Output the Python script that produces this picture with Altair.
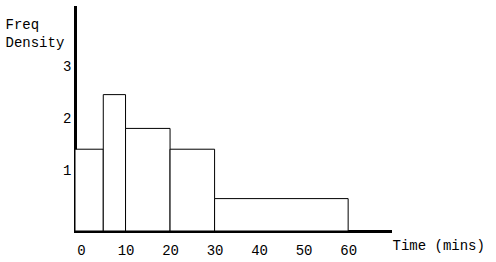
import altair as alt
import pandas as pd

# class boundaries (minutes) and frequency densities
starts = [0, 5, 10, 20, 30]
ends = [5, 10, 20, 30, 60]
density = [1.4, 2.45, 1.8, 1.4, 0.45]

x_ticks = [0, 10, 20, 30, 40, 50, 60]
y_ticks = [1, 2, 3]

XMIN, XMAX = -1.35, 69.4
YMIN, YMAX = -0.173, 4.135

FONT = "Liberation Mono"

df = pd.DataFrame({"start": starts, "end": ends, "density": density})

chart = (
    alt.Chart(df)
    # the first class is drawn starting from the vertical axis, as in the original
    .transform_calculate(x0=f"datum.start <= 0 ? {XMIN} : datum.start", base=f"{YMIN}")
    .mark_rect(fill="white", stroke="black", strokeWidth=1)
    .encode(
        x=alt.X(
            "x0:Q",
            scale=alt.Scale(domain=[XMIN, XMAX], nice=False, zero=False),
            axis=alt.Axis(
                values=x_ticks,
                title="Time (mins)",
                titleX=317,
                titleY=18,
                titleAlign="left",
                titleBaseline="alphabetic",
                titleAnchor="start",
                titleFont=FONT,
                titleFontSize=14,
                titleFontWeight="normal",
                titleColor="black",
                labelFont=FONT,
                labelFontSize=14,
                labelColor="black",
                labelBaseline="alphabetic",
                labelPadding=23,
                labelFlush=False,
                labelOverlap=False,
                ticks=False,
                tickSize=0,
                grid=False,
                domainColor="black",
                domainWidth=3,
                domainCap="square",
            ),
        ),
        x2="end:Q",
        y=alt.Y(
            "density:Q",
            scale=alt.Scale(domain=[YMIN, YMAX], nice=False, zero=False),
            axis=alt.Axis(
                values=y_ticks,
                title=["Freq", "Density"],
                titleAngle=0,
                titleX=-70,
                titleY=21.5,
                titleAlign="left",
                titleBaseline="alphabetic",
                titleAnchor="start",
                titleLineHeight=18,
                titleFont=FONT,
                titleFontSize=14,
                titleFontWeight="normal",
                titleColor="black",
                labelFont=FONT,
                labelFontSize=14,
                labelColor="black",
                labelPadding=4,
                labelFlush=False,
                labelOverlap=False,
                ticks=False,
                tickSize=0,
                grid=False,
                domainColor="black",
                domainWidth=3,
                domainCap="square",
            ),
        ),
        y2="base:Q",
    )
    .properties(
        width=315,
        height=224,
        autosize=alt.AutoSizeParams(type="none"),
        padding={"left": 75, "top": 7, "right": 106, "bottom": 31},
        background="white",
    )
    .configure_view(stroke=None)
)

chart.save("out.html", embed_options={"renderer": "svg", "actions": False})
